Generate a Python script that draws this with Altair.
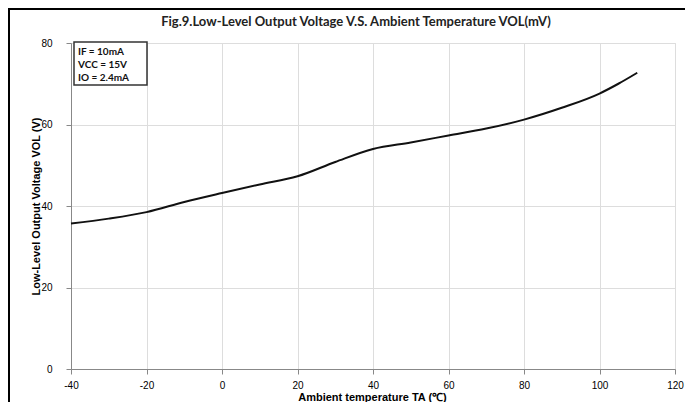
import altair as alt
import pandas as pd

temps = [-40, -30, -20, -10, 0, 10, 20, 30, 40, 50, 60, 70, 80, 90, 100, 105, 110]
vol = [35.7, 36.9, 38.5, 41.0, 43.2, 45.3, 47.3, 50.8, 54.0, 55.6, 57.3, 59.0, 61.2, 64.1, 67.6, 70.0, 72.7]
x_ticks = [-40, -20, 0, 20, 40, 60, 80, 100, 120]
y_ticks = [0, 20, 40, 60, 80]
cond_lines = ["IF = 10mA", "VCC = 15V", "IO = 2.4mA"]
title_text = "Fig.9.Low-Level Output Voltage V.S. Ambient Temperature VOL(mV)"

FONT = "Lato"
df = pd.DataFrame({"TA": temps, "VOL": vol})

x_enc = alt.X("TA:Q", scale=alt.Scale(domain=[-40, 120], nice=False),
              axis=alt.Axis(values=x_ticks, title="Ambient temperature TA (℃)",
                            titleX=301, titleY=28, titleBaseline="middle",
                            labelPadding=6, labelFlush=False,
                            labelExpr="toString(datum.value)"))
y_enc = alt.Y("VOL:Q", scale=alt.Scale(domain=[0, 80], nice=False),
              axis=alt.Axis(values=y_ticks, title="Low-Level Output Voltage VOL (V)",
                            titleX=-35, titleY=163, titleAngle=-90, titleBaseline="middle",
                            titleAlign="center", labelPadding=14))

line = alt.Chart(df).mark_line(color="#111111", strokeWidth=2, interpolate="monotone").encode(
    x=x_enc, y=y_enc)

box = alt.Chart(pd.DataFrame({"k": [0]})).mark_rect(
    fill="white", stroke="#333333", strokeWidth=1.5).encode(
    x=alt.value(3), x2=alt.value(76), y=alt.value(-1), y2=alt.value(42))

txt = alt.Chart(pd.DataFrame({"t": ["\n".join(cond_lines)]})).mark_text(
    align="left", baseline="top", font=FONT, fontWeight="bold", fontSize=10, color="#111111",
    lineBreak="\n", lineHeight=13).encode(
    x=alt.value(7), y=alt.value(4), text="t:N")

ttl = alt.Chart(pd.DataFrame({"t": [title_text]})).mark_text(
    align="center", baseline="middle", font=FONT, fontWeight="bold", fontSize=13,
    color="#222222").encode(x=alt.value(285), y=alt.value(-21), text="t:N")

frame_left = alt.Chart(pd.DataFrame({"k": [0]})).mark_rule(color="black", strokeWidth=2).encode(
    x=alt.value(-62), y=alt.value(-35), y2=alt.value(360))
frame_top = alt.Chart(pd.DataFrame({"k": [0]})).mark_rule(color="black", strokeWidth=2).encode(
    x=alt.value(-63), x2=alt.value(614), y=alt.value(-34))

chart = alt.layer(line, box, txt, ttl, frame_left, frame_top).properties(
    width=604, height=326,
    padding={"left": 63, "top": 35, "right": 10, "bottom": 33},
    autosize=alt.AutoSizeParams(type="none"),
).configure_view(stroke=None).configure_axis(
    grid=True, gridColor="#bdbdbd", gridWidth=1, domainColor="#bdbdbd", domainWidth=1.5,
    ticks=False, labelFont=FONT, labelFontSize=10, labelFontWeight="bold", labelColor="#333333",
    titleFont=FONT, titleFontSize=10, titleFontWeight="bold", titleColor="#222222",
).configure(background="white")

chart.save("out.html", embed_options={"renderer": "svg", "actions": False})
